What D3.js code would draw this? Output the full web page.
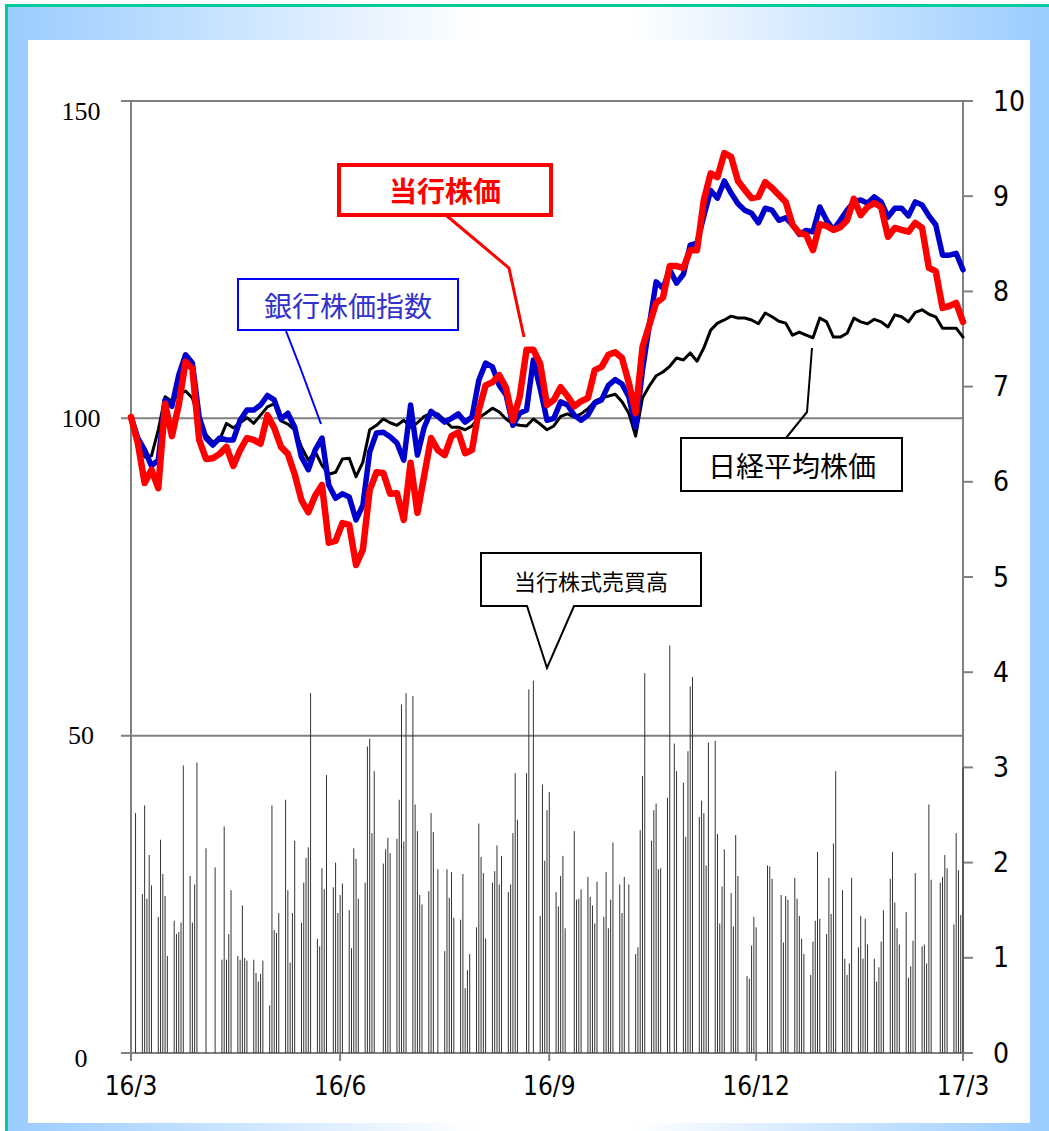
<!DOCTYPE html>
<html lang="ja">
<head>
<meta charset="UTF-8">
<title>当行株価の推移</title>
<script src="https://d3js.org/d3.v7.min.js"></script>
<style>
body { margin: 0; background: #fff; }
text { font-family: "Noto Sans CJK JP", sans-serif; }
.lab-left { font-family: "Liberation Serif", serif; font-size: 26px; fill: #000; }
.lab-right, .lab-x { font-family: "Liberation Sans Narrow", "DejaVu Sans Condensed", sans-serif; fill: #000; }
.lab-right { font-size: 28px; }
.lab-x { font-size: 26px; }
</style>
</head>
<body>
<div id="chart"></div>
<script>

// ---- data ----
// line series sampled every 3 calendar days from 2016-03-30
const lineStart = "2016-03-30"
const lineStep = 3
const ownPrice = [
  100.2, 96.1, 89.8, 91.9, 89.0, 102.3, 97.2, 102.1, 108.9, 107.8,
  96.6, 93.6, 93.7, 94.4, 95.5, 92.5, 95.0, 96.9, 96.6, 96.0,
  100.5, 98.5, 95.5, 94.4, 91.2, 87.1, 85.2, 87.8, 89.5, 80.4,
  80.7, 83.5, 83.2, 76.9, 79.3, 88.7, 91.5, 91.4, 88.1, 88.2,
  84.0, 93.0, 85.1, 91.0, 96.9, 95.0, 94.2, 97.2, 97.8, 94.5,
  95.0, 101.3, 105.2, 105.7, 106.8, 104.8, 99.7, 103.4, 110.8, 110.8,
  108.6, 102.1, 102.9, 104.9, 103.5, 101.9, 102.7, 103.2, 107.6, 108.1,
  110.0, 110.4, 109.5, 105.6, 100.8, 111.2, 114.7, 118.2, 119.0, 124.0,
  124.0, 123.7, 126.5, 126.5, 134.4, 138.6, 138.0, 141.8, 141.2, 137.4,
  136.0, 134.7, 134.9, 137.2, 136.3, 135.2, 134.1, 130.5, 129.2, 128.9,
  126.5, 130.6, 130.3, 129.7, 130.1, 131.2, 134.6, 132.0, 133.3, 133.9,
  133.3, 128.6, 130.0, 129.7, 129.4, 130.8, 130.0, 123.7, 123.2, 117.4,
  117.7, 118.2, 115.2
]
const bankIndex = [
  100.2, 96.9, 95.0, 92.5, 93.4, 102.9, 101.9, 106.8, 110.0, 108.7,
  100.2, 96.9, 95.8, 96.9, 96.6, 96.6, 99.7, 101.3, 101.3, 102.1,
  103.6, 102.9, 99.9, 100.8, 98.6, 93.9, 91.9, 95.0, 96.9, 89.5,
  87.4, 88.1, 87.6, 84.0, 86.3, 94.7, 97.7, 97.8, 97.1, 96.1,
  93.4, 102.1, 94.2, 98.6, 101.1, 100.3, 99.4, 100.0, 100.7, 99.4,
  100.2, 106.0, 108.7, 108.1, 105.2, 103.7, 98.9, 100.8, 101.3, 109.2,
  104.7, 99.7, 100.0, 102.6, 102.1, 100.5, 99.7, 100.5, 102.4, 102.9,
  105.2, 106.1, 105.4, 103.4, 98.6, 107.6, 114.7, 121.5, 120.5, 123.4,
  121.3, 122.7, 127.3, 127.6, 131.9, 135.9, 134.7, 137.4, 135.5, 133.8,
  132.8, 132.3, 130.8, 133.1, 132.8, 131.2, 131.6, 130.5, 129.0, 129.6,
  129.4, 133.3, 131.2, 129.7, 131.2, 132.8, 134.1, 134.4, 133.9, 134.9,
  134.1, 131.7, 133.1, 133.1, 131.9, 134.1, 133.6, 131.9, 130.5, 125.7,
  125.7, 126.0, 123.4
]
const nikkei = [
  99.7, 96.6, 93.9, 94.1, 98.2, 103.4, 102.7, 103.7, 104.3, 103.2,
  99.7, 97.4, 96.3, 96.6, 99.2, 98.5, 99.3, 100.1, 99.2, 100.5,
  101.8, 102.3, 99.6, 99.1, 98.2, 95.5, 93.4, 94.8, 92.6, 91.2,
  91.5, 93.6, 93.7, 90.8, 93.1, 98.2, 98.9, 99.9, 99.3, 98.9,
  99.7, 98.6, 99.3, 100.3, 100.8, 100.7, 99.7, 98.6, 98.6, 98.2,
  98.8, 100.1, 100.8, 101.6, 101.0, 99.9, 99.1, 98.9, 98.8, 99.9,
  99.1, 98.2, 98.8, 100.3, 100.7, 100.2, 100.7, 101.5, 102.7, 103.2,
  103.5, 103.8, 102.6, 100.8, 97.2, 103.2, 105.1, 106.7, 107.3, 108.2,
  109.5, 109.2, 110.3, 109.0, 111.1, 113.9, 115.0, 115.5, 116.1, 115.8,
  115.8, 115.5, 114.9, 116.6, 116.0, 115.3, 115.0, 113.1, 113.6, 113.1,
  112.7, 115.8, 115.2, 112.8, 112.8, 113.4, 115.8, 115.2, 114.9, 115.6,
  115.2, 114.4, 116.3, 116.0, 115.2, 116.7, 117.1, 116.4, 116.0, 114.2,
  114.2, 114.2, 112.8
]

// trading volume, one value per trading day (right axis)
const volumeFrom = "2016-04-01"
const volumeTo = "2017-03-31"
const holidays = ["2016-04-29", "2016-05-03", "2016-05-04", "2016-05-05", "2016-07-18",
  "2016-08-11", "2016-09-19", "2016-09-22", "2016-10-10", "2016-11-03", "2016-11-23",
  "2016-12-23", "2017-01-02", "2017-01-03", "2017-01-09", "2017-03-20"]
const volume = [
  // Apr
  2.52, 1.67, 2.60, 1.62, 2.08, 1.76, 1.43, 2.24, 1.88, 1.65, 1.02, 1.39, 1.25, 1.27, 1.37, 3.02, 1.86, 1.37, 1.77, 3.05,
  // May
  2.15, 1.95, 0.98, 2.38, 0.98, 1.25, 1.71, 1.02, 0.98, 1.55, 1.00, 0.97, 0.98, 0.84, 0.75, 0.83, 0.97, 0.50, 2.60,
  // Jun
  1.29, 1.26, 1.47, 2.66, 1.71, 0.95, 1.47, 2.23, 1.37, 1.79, 2.05, 2.16, 3.78, 1.20, 1.12, 1.94, 1.72, 2.92, 1.74, 2.00, 1.47, 1.66,
  // Jul
  1.78, 1.50, 1.10, 2.15, 2.04, 1.62, 1.79, 3.22, 3.30, 2.31, 2.96, 1.99, 2.14, 2.26, 2.10, 2.25, 2.66, 3.66, 2.22, 3.78,
  // Aug
  3.75, 2.61, 2.33, 1.66, 1.56, 1.70, 2.52, 2.32, 1.93, 1.07, 1.93, 1.63, 1.90, 1.42, 1.40, 1.88, 0.68, 0.87, 1.04, 1.32, 2.41, 2.06,
  // Sep
  1.89, 1.20, 1.79, 1.91, 2.18, 1.77, 2.07, 1.69, 1.77, 2.31, 2.94, 2.45, 2.94, 3.82, 3.91, 1.44, 2.82, 2.02, 2.55, 2.74,
  // Oct
  1.69, 1.54, 1.86, 2.07, 1.31, 2.33, 1.61, 1.62, 1.72, 1.85, 1.64, 1.55, 1.36, 1.80, 1.43, 1.90, 1.31, 1.61, 2.21, 1.77,
  // Nov
  1.47, 1.85, 1.77, 1.04, 1.11, 2.34, 2.91, 3.99, 2.23, 2.55, 2.62, 1.93, 1.94, 2.68, 4.28, 3.25, 2.96, 2.84, 2.27, 3.17,
  // Dec
  3.85, 3.95, 2.48, 2.65, 2.52, 1.97, 3.26, 3.28, 2.30, 1.36, 1.75, 2.14, 1.68, 1.33, 2.29, 1.86, 0.81, 0.78, 1.13, 1.43, 1.32,
  // Jan
  1.97, 1.96, 1.83, 1.66, 1.16, 1.65, 1.61, 1.84, 1.62, 1.44, 1.20, 1.04, 0.82, 1.17, 1.39, 2.11, 1.41, 1.25, 1.84,
  // Feb
  1.46, 2.20, 2.96, 1.71, 0.99, 0.82, 0.94, 1.84, 1.11, 1.44, 0.99, 1.41, 1.14, 0.99, 0.75, 0.90, 1.17, 1.50, 1.83, 2.11,
  // Mar
  1.58, 1.31, 1.14, 1.48, 0.79, 0.91, 1.18, 1.89, 1.12, 1.14, 0.94, 2.61, 1.82, 1.79, 1.85, 2.08, 1.94, 1.35, 2.31, 1.92, 1.45, 3.00
]

const xDomain = ["2016-03-30", "2017-03-31"]
const xTickDates = ["2016-03-30", "2016-06-30", "2016-09-30", "2016-12-30", "2017-03-31"]
const xTickLabels = ["16/3", "16/6", "16/9", "16/12", "17/3"]
const leftTicks = [0, 50, 100, 150]
const rightTicks = [0, 1, 2, 3, 4, 5, 6, 7, 8, 9, 10]

// ---- layout ----
const W = 1049, H = 1131
const plot = {left: 131, right: 963, top: 101, bottom: 1053}
const gridColor = '#808080'
const parse = d3.utcParse("%Y-%m-%d")
const fmt = d3.utcFormat("%Y-%m-%d")

let svg, x, yL, yR

function getSvg() {
  svg = d3.select("#chart").append("svg")
    .attr("width", W).attr("height", H)
}

function drawFrame() {
  let grad = svg.append("defs").append("linearGradient")
    .attr("id", "band").attr("x1", "0%").attr("x2", "100%")
  grad.append("stop").attr("offset", "0%").attr("stop-color", "#99ccff")
  grad.append("stop").attr("offset", "45%").attr("stop-color", "#ffffff")
  grad.append("stop").attr("offset", "60%").attr("stop-color", "#ffffff")
  grad.append("stop").attr("offset", "100%").attr("stop-color", "#99ccff")

  svg.append("rect").attr("x", 6).attr("y", 5).attr("width", W - 6).attr("height", H - 5)
    .attr("fill", "url(#band)")
  svg.append("rect").attr("x", 28).attr("y", 40).attr("width", 1002).attr("height", 1083)
    .attr("fill", "#fff")
  // teal edge (top and left)
  svg.append("line").attr("x1", 5).attr("x2", W).attr("y1", 5.5).attr("y2", 5.5)
    .attr("stroke", "#00cc99").attr("stroke-width", 3)
  svg.append("line").attr("x1", 6.5).attr("x2", 6.5).attr("y1", 4).attr("y2", H)
    .attr("stroke", "#00cc99").attr("stroke-width", 3)
}

function makeScales() {
  x = d3.scaleUtc().domain(xDomain.map(parse)).range([plot.left, plot.right])
  yL = d3.scaleLinear().domain([0, 150]).range([plot.bottom, plot.top])
  yR = d3.scaleLinear().domain([0, 10]).range([plot.bottom, plot.top])
}

function drawAxes() {
  let g = svg.append("g")
  // horizontal grid at left ticks
  g.selectAll(".grid").data(leftTicks).enter().append("line")
    .attr("x1", plot.left - 10).attr("x2", plot.right)
    .attr("y1", d => yL(d)).attr("y2", d => yL(d))
    .attr("stroke", gridColor).attr("stroke-width", 2)
  // left / right axis lines
  g.append("line").attr("x1", plot.left).attr("x2", plot.left)
    .attr("y1", plot.top).attr("y2", plot.bottom + 8)
    .attr("stroke", gridColor).attr("stroke-width", 2)
  g.append("line").attr("x1", plot.right).attr("x2", plot.right)
    .attr("y1", plot.top).attr("y2", plot.bottom + 8)
    .attr("stroke", gridColor).attr("stroke-width", 2)
  // right ticks
  g.selectAll(".rt").data(rightTicks).enter().append("line")
    .attr("x1", plot.right).attr("x2", plot.right + 10)
    .attr("y1", d => yR(d)).attr("y2", d => yR(d))
    .attr("stroke", gridColor).attr("stroke-width", 2)
  // bottom ticks
  g.selectAll(".xt").data(xTickDates).enter().append("line")
    .attr("x1", d => x(parse(d))).attr("x2", d => x(parse(d)))
    .attr("y1", plot.bottom).attr("y2", plot.bottom + 8)
    .attr("stroke", gridColor).attr("stroke-width", 2)

  // labels
  g.selectAll(".ll").data(leftTicks).enter().append("text")
    .attr("class", "lab-left")
    .attr("x", 81).attr("y", d => yL(d) + (d == 150 ? 10 : d == 0 ? 5 : 0))
    .attr("text-anchor", "middle").attr("dominant-baseline", "central")
    .text(d => d)
  g.selectAll(".rl").data(rightTicks).enter().append("text")
    .attr("class", "lab-right")
    .attr("x", 993).attr("y", d => yR(d))
    .attr("dominant-baseline", "central")
    .text(d => d)
  g.selectAll(".xl").data(xTickDates).enter().append("text")
    .attr("class", "lab-x")
    .attr("x", d => x(parse(d))).attr("y", 1095)
    .attr("text-anchor", "middle")
    .text((d, i) => xTickLabels[i])
}

function tradingDays() {
  let hol = new Set(holidays)
  return d3.utcDays(parse(volumeFrom), d3.utcDay.offset(parse(volumeTo), 1))
    .filter(d => d.getUTCDay() != 0 && d.getUTCDay() != 6 && !hol.has(fmt(d)))
}

function drawBars() {
  let days = tradingDays()
  if (days.length != volume.length) console.log('volume length mismatch', days.length, volume.length)
  svg.append("g").selectAll("line").data(volume).enter().append("line")
    .attr("x1", (d, i) => x(days[i])).attr("x2", (d, i) => x(days[i]))
    .attr("y1", yR(0)).attr("y2", d => yR(d))
    .attr("stroke", "#333").attr("stroke-width", 1)
}

function drawLine(values, color, width) {
  let start = parse(lineStart)
  let end = parse(xDomain[1])
  let line = d3.line()
    .x((d, i) => x(d3.min([d3.utcDay.offset(start, i * lineStep), end])))
    .y(d => yL(d))
  svg.append("path").datum(values)
    .attr("fill", "none").attr("stroke", color).attr("stroke-width", width)
    .attr("stroke-linejoin", "round").attr("stroke-linecap", "round")
    .attr("d", line)
}

function drawCallouts() {
  let g = svg.append("g")
  // 銀行株価指数
  g.append("polyline").attr("points", "286,331 300,367 321,424")
    .attr("fill", "none").attr("stroke", "#0000ff").attr("stroke-width", 2)
  g.append("rect").attr("x", 238).attr("y", 279).attr("width", 220).attr("height", 51)
    .attr("fill", "#fff").attr("stroke", "#0000ff").attr("stroke-width", 2)
  g.append("text").attr("x", 348).attr("y", 305).attr("text-anchor", "middle")
    .attr("dominant-baseline", "central").style("font-size", "28px").attr("fill", "#3333cc")
    .text("銀行株価指数")

  // 当行株価
  g.append("polyline").attr("points", "447,216 509,268 524,337")
    .attr("fill", "none").attr("stroke", "#ff0000").attr("stroke-width", 3)
  g.append("rect").attr("x", 339).attr("y", 165).attr("width", 212).attr("height", 50)
    .attr("fill", "#fff").attr("stroke", "#ff0000").attr("stroke-width", 4)
  g.append("text").attr("x", 445).attr("y", 190).attr("text-anchor", "middle")
    .attr("dominant-baseline", "central").style("font-size", "28px").style("font-weight", "bold")
    .attr("fill", "#ff0000").text("当行株価")

  // 日経平均株価
  g.append("polyline").attr("points", "786,438 807,412 812,348")
    .attr("fill", "none").attr("stroke", "#000").attr("stroke-width", 2)
  g.append("rect").attr("x", 681).attr("y", 438).attr("width", 221).attr("height", 53)
    .attr("fill", "#fff").attr("stroke", "#000").attr("stroke-width", 2)
  g.append("text").attr("x", 792).attr("y", 465).attr("text-anchor", "middle")
    .attr("dominant-baseline", "central").style("font-size", "28px").attr("fill", "#000")
    .text("日経平均株価")

  // 当行株式売買高 (balloon)
  g.append("path")
    .attr("d", "M481,553 H701 V606 H574 L547,668 L527,606 H481 Z")
    .attr("fill", "#fff").attr("stroke", "#000").attr("stroke-width", 2)
  g.append("text").attr("x", 591).attr("y", 580).attr("text-anchor", "middle")
    .attr("dominant-baseline", "central").style("font-size", "22px").attr("fill", "#000")
    .text("当行株式売買高")
}

function drawChart() {
  getSvg()
  drawFrame()
  makeScales()
  drawAxes()
  drawBars()
  drawLine(nikkei, "#000", 3)
  drawLine(bankIndex, "#0000cc", 5.5)
  drawLine(ownPrice, "#ff0000", 6.5)
  drawCallouts()
}

drawChart()

</script>
</body>
</html>
